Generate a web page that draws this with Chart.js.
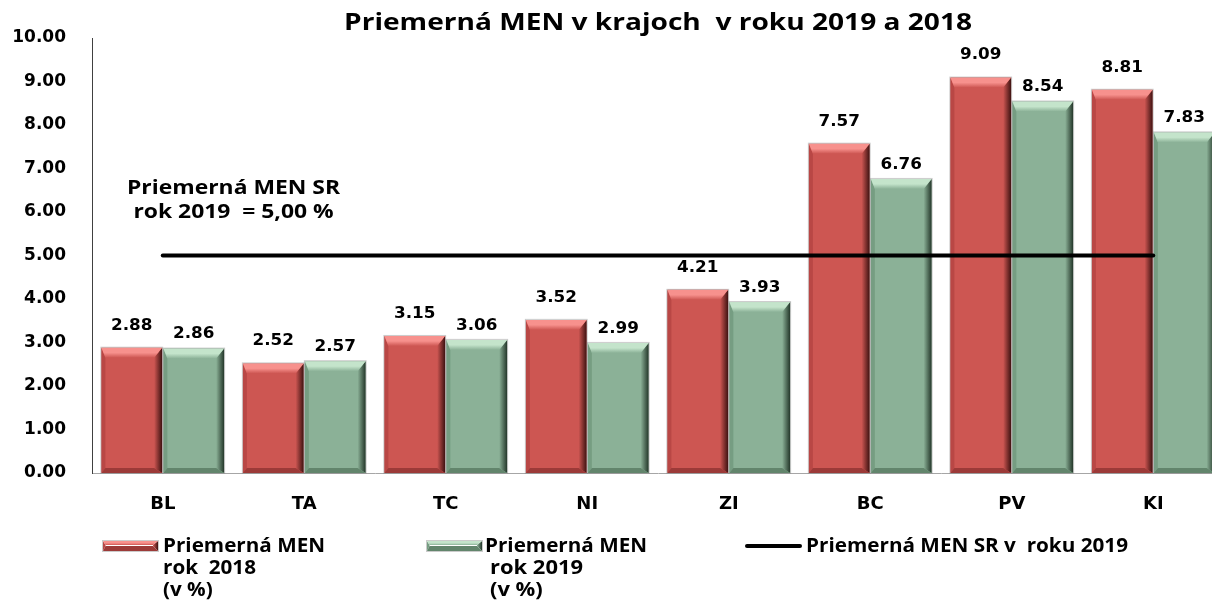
<!DOCTYPE html>
<html>
<head>
<meta charset="utf-8">
<title>Priemerná MEN v krajoch</title>
<script src="https://cdn.jsdelivr.net/npm/chart.js@4.4.1/dist/chart.umd.min.js"></script>
<style>
    html, body { margin: 0; padding: 0; background: #fff; overflow: hidden; }
    canvas { display: block; }
</style>
</head>
<body>
<canvas id="menChart" width="1224" height="601"></canvas>
<script>
// data
const regions = ['BL', 'TA', 'TC', 'NI', 'ZI', 'BC', 'PV', 'KI'];
const men2018 = [2.88, 2.52, 3.15, 3.52, 4.21, 7.57, 9.09, 8.81];
const men2019 = [2.86, 2.57, 3.06, 2.99, 3.93, 6.76, 8.54, 7.83];
const menSR2019 = [5.00, 5.00, 5.00, 5.00, 5.00, 5.00, 5.00, 5.00];
const yMin = 0;
const yMax = 10;
const yStep = 1;

const chartTitle = 'Priemerná MEN v krajoch  v roku 2019 a 2018';
const noteLines = ['Priemerná MEN SR', 'rok 2019  = 5,00 %'];
const legend2018 = ['Priemerná MEN', 'rok  2018', '(v %)'];
const legend2019 = ['Priemerná MEN', 'rok 2019', '(v %)'];
const legendSR = 'Priemerná MEN SR v  roku 2019';

const redStyle = { face: '#cd5652', light: '#f7918d', left: '#b94745', dark: '#3e1211', bottom: '#9c3a38', gap: 22 };
const greenStyle = { face: '#8bb197', light: '#c4e4cb', left: '#769d82', dark: '#24372a', bottom: '#62856c', gap: 14 };

const textFont = '"Open Sans", "Noto Sans", sans-serif';
const numFont = '"DejaVu Sans", Verdana, sans-serif';

// draw text lines, squeezed or stretched so the first line gets a given width
function fitText(ctx, lines, x, y, lineGap, size, refWidth, align) {
    ctx.save();
    ctx.font = 'bold ' + size + 'px ' + textFont;
    ctx.fillStyle = '#000';
    ctx.textBaseline = 'middle';
    const sx = refWidth / ctx.measureText(lines[0]).width;
    lines.forEach(function (line, i) {
        const w = ctx.measureText(line).width * sx;
        let lx = x;
        if (align === 'center') lx = x - w / 2;
        ctx.save();
        ctx.translate(lx, y + i * lineGap);
        ctx.scale(sx, 1);
        ctx.fillText(line, 0, 0);
        ctx.restore();
    });
    ctx.restore();
}

// 3D-ish bevel on top of a flat bar
function bevel(ctx, l, r, t, b, c, bv, side) {
    bv = Math.min(bv, (b - t) / 2);
    const sb = Math.min(5, (b - t) / 2);
    ctx.save();
    // left edge
    ctx.fillStyle = c.left;
    ctx.beginPath();
    ctx.moveTo(l, t); ctx.lineTo(l + side * 0.5, t + bv); ctx.lineTo(l + side * 0.5, b - sb); ctx.lineTo(l, b);
    ctx.closePath(); ctx.fill();
    // right edge
    let g = ctx.createLinearGradient(r - side, 0, r, 0);
    g.addColorStop(0, c.face);
    g.addColorStop(1, c.dark);
    ctx.fillStyle = g;
    ctx.beginPath();
    ctx.moveTo(r, t); ctx.lineTo(r - side, t + bv); ctx.lineTo(r - side, b - sb); ctx.lineTo(r, b);
    ctx.closePath(); ctx.fill();
    // bottom
    ctx.fillStyle = c.bottom;
    ctx.beginPath();
    ctx.moveTo(l, b); ctx.lineTo(l + side * 0.5, b - sb); ctx.lineTo(r - side, b - sb); ctx.lineTo(r, b);
    ctx.closePath(); ctx.fill();
    // top
    g = ctx.createLinearGradient(0, t, 0, t + bv);
    g.addColorStop(0, c.light);
    g.addColorStop(0.5, c.light);
    g.addColorStop(1, c.face);
    ctx.fillStyle = g;
    ctx.beginPath();
    ctx.moveTo(l, t); ctx.lineTo(r, t); ctx.lineTo(r - side, t + bv); ctx.lineTo(l + side * 0.5, t + bv);
    ctx.closePath(); ctx.fill();
    ctx.strokeStyle = 'rgba(140,140,140,0.45)';
    ctx.lineWidth = 1;
    ctx.strokeRect(l - 0.5, t - 0.5, r - l + 1, b - t + 1);
    ctx.restore();
}

const barLook = {
    id: 'barLook',
    afterDatasetDraw(chart, args) {
        const ds = chart.data.datasets[args.index];
        if (ds.type === 'line') return;
        const c = ds.look;
        const ctx = chart.ctx;
        args.meta.data.forEach(function (bar) {
            const p = bar.getProps(['x', 'y', 'base', 'width'], true);
            bevel(ctx, p.x - p.width / 2, p.x + p.width / 2, p.y, p.base, c, 10, 8);
        });
    }
};

const extras = {
    id: 'extras',
    afterDraw(chart) {
        const ctx = chart.ctx;
        const area = chart.chartArea;
        const xs = chart.scales.x;
        const ys = chart.scales.y;

        // value labels above the bars
        ctx.save();
        ctx.font = 'bold 15px ' + numFont;
        ctx.fillStyle = '#000';
        ctx.textAlign = 'center';
        ctx.textBaseline = 'middle';
        chart.data.datasets.forEach(function (ds, i) {
            if (ds.type === 'line') return;
            chart.getDatasetMeta(i).data.forEach(function (bar, j) {
                ctx.save();
                ctx.translate(bar.x, bar.y - ds.look.gap);
                ctx.scale(1.12, 1);
                ctx.fillText(ds.data[j].toFixed(2), 0, 0);
                ctx.restore();
            });
        });
        ctx.restore();

        // title
        fitText(ctx, [chartTitle], (area.left + area.right) / 2, 23, 0, 24, 628, 'center');

        // note about the national average
        fitText(ctx, noteLines, xs.getPixelForValue(0.5), ys.getPixelForValue(6.55), 24, 20, 213, 'center');

        // legend
        const rowY = 546;
        bevel(ctx, 103, 158, rowY - 5, rowY + 5, redStyle, 4, 5);
        fitText(ctx, legend2018, 163, rowY, 22, 20, 162, 'left');
        bevel(ctx, 427, 482, rowY - 5, rowY + 5, greenStyle, 4, 5);
        fitText(ctx, legend2019.slice(0, 1), 485, rowY, 22, 20, 162, 'left');
        fitText(ctx, legend2019.slice(1), 490, rowY + 22, 22, 20, 93, 'left');
        ctx.save();
        ctx.strokeStyle = '#000';
        ctx.lineWidth = 4;
        ctx.lineCap = 'round';
        ctx.beginPath();
        ctx.moveTo(747, rowY);
        ctx.lineTo(800, rowY);
        ctx.stroke();
        ctx.restore();
        fitText(ctx, [legendSR], 806, rowY, 22, 20, 322, 'left');
    }
};

const ctx = document.getElementById('menChart').getContext('2d');
const menChart = new Chart(ctx, {
    type: 'bar',
    data: {
        labels: regions,
        datasets: [
            {
                type: 'line',
                label: legendSR,
                data: menSR2019,
                borderColor: '#000',
                borderWidth: 4,
                borderCapStyle: 'round',
                pointRadius: 0,
                fill: false,
                order: 0
            },
            {
                label: 'Priemerná MEN rok 2018 (v %)',
                data: men2018,
                backgroundColor: redStyle.face,
                look: redStyle,
                order: 1
            },
            {
                label: 'Priemerná MEN rok 2019 (v %)',
                data: men2019,
                backgroundColor: greenStyle.face,
                look: greenStyle,
                order: 1
            }
        ]
    },
    options: {
        responsive: false,
        animation: false,
        datasets: {
            bar: { categoryPercentage: 0.876, barPercentage: 0.98 }
        },
        layout: { padding: { top: 38, left: 0, right: 0, bottom: 0 } },
        plugins: {
            legend: { display: false },
            title: { display: false },
            tooltip: { enabled: false }
        },
        scales: {
            x: {
                grid: { display: false, drawTicks: false },
                border: { display: true, color: '#a6a6a6', width: 1 },
                ticks: {
                    color: '#000',
                    padding: 21,
                    font: { family: numFont, size: 18, weight: 'bold' }
                },
                afterFit(scale) { scale.height = 128; }
            },
            y: {
                min: yMin,
                max: yMax,
                grid: { display: false, drawTicks: false },
                border: { display: true, color: '#404040', width: 1 },
                ticks: {
                    stepSize: yStep,
                    color: '#000',
                    padding: 26,
                    font: { family: numFont, size: 17, weight: 'bold' },
                    callback: function (v) { return v.toFixed(2); }
                },
                afterFit(scale) { scale.width = 92; }
            }
        }
    },
    plugins: [barLook, extras]
});
</script>
</body>
</html>
